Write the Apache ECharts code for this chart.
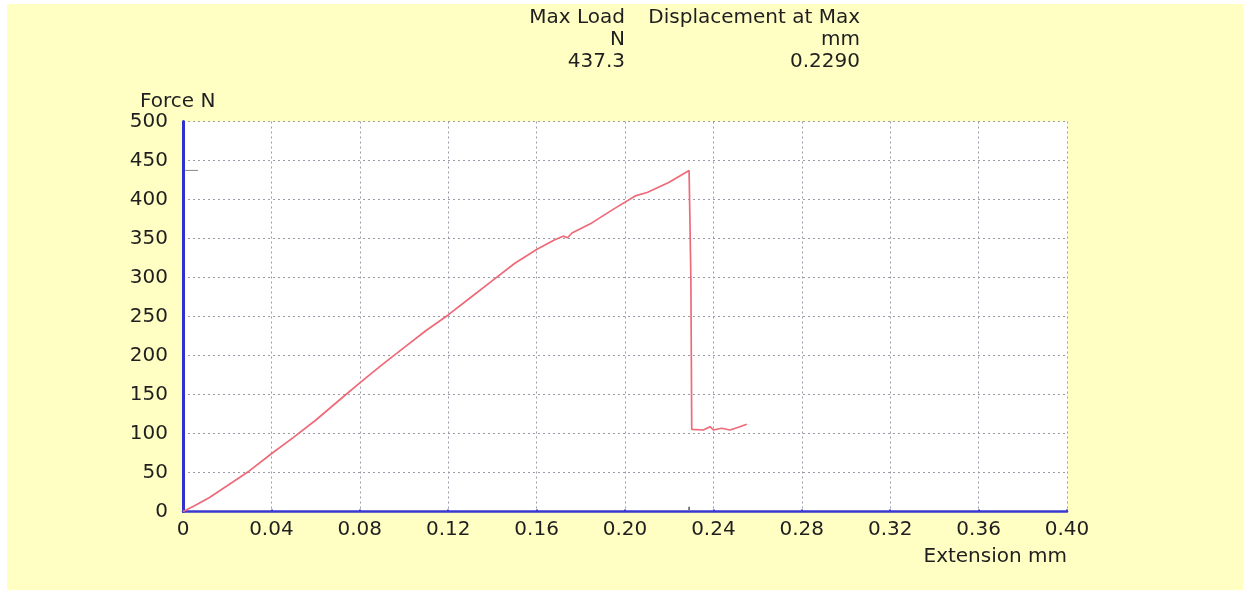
<!DOCTYPE html>
<html>
<head>
<meta charset="utf-8">
<title>Force vs Extension</title>
<script src="https://cdn.jsdelivr.net/npm/echarts@6/dist/echarts.min.js"></script>
<style>
  html, body { margin: 0; padding: 0; background: #fff; }
  #chart { position: absolute; left: 7px; top: 4px; width: 1236px; height: 586px; background: #ffffc4; }
</style>
</head>
<body>
<div id="chart"></div>
<script>
// extension (mm) / force (N)
const extension = [0, 0.005, 0.012, 0.02, 0.03, 0.04, 0.05, 0.06, 0.07, 0.08, 0.09, 0.10, 0.11, 0.12, 0.13, 0.14, 0.15, 0.16, 0.168, 0.172, 0.174, 0.176, 0.185, 0.195, 0.205, 0.21, 0.22, 0.229,
  0.2298, 0.2302, 0.2354, 0.2385, 0.240, 0.2437, 0.2475, 0.2513, 0.2551]
const force = [0, 7, 18, 33, 52, 74, 95, 117, 141, 165, 188, 210, 232, 252, 274, 296, 318, 336, 348, 353, 351, 357, 370, 388, 405, 409, 422, 437.3,
  300, 105.4, 104.5, 108.7, 104.5, 106.7, 104.5, 108, 111.8]

const resultNames = ['Max Load', 'Displacement at Max']
const resultUnits = ['N', 'mm']
const resultValues = ['437.3', '0.2290']
const maxLoad = 437.3
const maxDisp = 0.229

const font = "'DejaVu Sans', Verdana, sans-serif"
const textColor = '#1f1f1f'

const chart = echarts.init(document.getElementById('chart'))

// header table, right-aligned columns (chart coords = page coords - offset)
const colRight = [625 - 7, 860 - 7]
const header = []
resultNames.forEach((name, i) => {
  [name, resultUnits[i], resultValues[i]].forEach((t, row) => {
    header.push({
      type: 'text',
      x: colRight[i],
      y: 18 - 4 + row * 22,
      style: { text: t, fill: textColor, font: '20px ' + font, textAlign: 'right', textVerticalAlign: 'middle' }
    })
  })
})

chart.setOption({
  animation: false,
  textStyle: { fontFamily: font },
  graphic: header,
  grid: {
    left: 176,
    top: 117.5,
    right: 176,
    bottom: 78.5,
    show: true,
    backgroundColor: '#ffffff',
    borderWidth: 0
  },
  xAxis: {
    type: 'value',
    min: 0,
    max: 0.4,
    interval: 0.04,
    name: 'Extension mm',
    nameLocation: 'end',
    nameGap: 0,
    nameTextStyle: {
      color: textColor,
      fontSize: 20,
      align: 'right',
      verticalAlign: 'top',
      padding: [35, 0, 0, 0]
    },
    axisLine: { lineStyle: { color: '#3a3ad0', width: 2.5 } },
    axisTick: { show: true, length: 2, inside: true, lineStyle: { color: '#3a3ad0', width: 2 } },
    axisLabel: {
      color: textColor,
      fontSize: 20,
      margin: 8,
      formatter: v => (v === 0 ? '0' : v.toFixed(2))
    },
    splitLine: { show: true, lineStyle: { color: '#9a9aa8', type: [2, 3], width: 1 } }
  },
  yAxis: {
    type: 'value',
    min: 0,
    max: 500,
    interval: 50,
    name: 'Force N',
    nameLocation: 'end',
    nameGap: 10,
    nameTextStyle: {
      color: textColor,
      fontSize: 20,
      align: 'left',
      padding: [0, 0, 0, -43]
    },
    axisLine: { show: true, lineStyle: { color: '#3030d0', width: 3 } },
    axisTick: { show: false },
    axisLabel: { color: textColor, fontSize: 20, margin: 15 },
    splitLine: { show: true, lineStyle: { color: '#9a9aa8', type: [2, 3], width: 1 } }
  },
  series: [
    {
      type: 'line',
      data: extension.map((x, i) => [x, force[i]]),
      symbol: 'none',
      lineStyle: { color: '#ee6a78', width: 1.7 },
      z: 5
    },
    {
      // max load marker on the force axis
      type: 'line',
      data: [[0.001, maxLoad], [0.0068, maxLoad]],
      symbol: 'none',
      lineStyle: { color: '#888', width: 1 },
      z: 4
    },
    {
      // displacement at max marker on the extension axis
      type: 'line',
      data: [[maxDisp, 2], [maxDisp, 6]],
      symbol: 'none',
      lineStyle: { color: '#555', width: 1.5 },
      z: 4
    }
  ]
})
</script>
</body>
</html>
